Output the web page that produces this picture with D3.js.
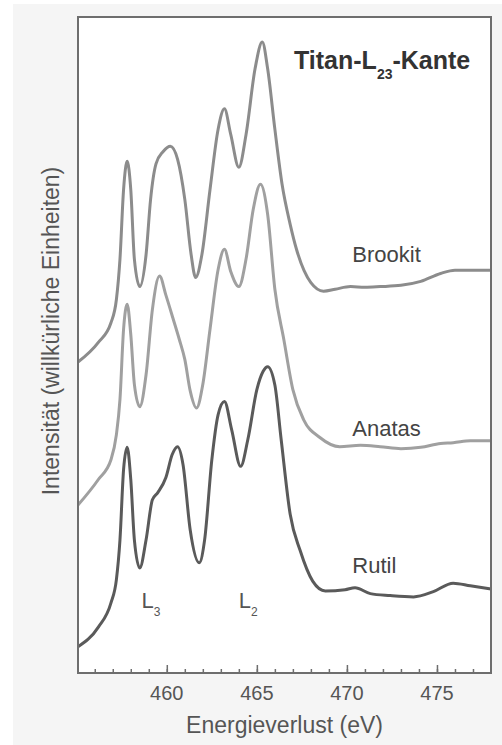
<!DOCTYPE html>
<meta charset="utf-8">
<style>
    html, body { margin: 0; padding: 0; overflow: hidden; background: #fff; }
    svg { display: block; }
    text { font-family: "Liberation Sans", Arial, sans-serif; }
    .spectrum { fill: none; stroke-width: 3; stroke-linejoin: round; }
</style>
<svg width="502" height="745"></svg>
<script src="https://d3js.org/d3.v7.min.js"></script>
<script>

    // energy loss (eV) and intensity (arbitrary units, offset per sample)
    var brookitEV = [455.07, 456.2, 456.9, 457.2, 457.4, 457.6, 457.8, 458.0, 458.2, 458.5, 458.85, 459.1, 459.4, 459.8, 460.2, 460.6, 461.0, 461.35, 461.6, 461.95, 462.4, 462.85, 463.2, 463.55, 464.0, 464.4, 464.9, 465.3, 465.6, 466.0, 466.4, 466.85, 467.2, 468.0, 468.7, 469.35, 470.2, 471.0, 471.85, 473.0, 474.1, 475.2, 476.0, 476.85, 478.0];
    var brookitI = [47.4, 50.4, 53.4, 56.9, 63.1, 73.7, 78.0, 73.7, 63.1, 58.9, 63.8, 72.2, 77.6, 79.5, 80.3, 78.3, 72.2, 63.8, 60.3, 63.8, 73.7, 82.9, 86.0, 82.1, 77.1, 82.1, 92.1, 96.2, 92.1, 82.9, 74.5, 68.4, 64.6, 59.5, 58.2, 58.5, 58.9, 58.8, 58.9, 59.1, 59.7, 60.9, 61.4, 61.4, 61.4];

    var anatasEV = [455.07, 456.2, 456.9, 457.2, 457.4, 457.6, 457.8, 458.0, 458.2, 458.5, 458.85, 459.2, 459.6, 459.95, 460.35, 460.7, 461.0, 461.3, 461.65, 462.0, 462.4, 462.85, 463.2, 463.55, 464.0, 464.4, 464.8, 465.2, 465.6, 466.0, 466.5, 467.0, 467.6, 468.5, 469.6, 470.75, 471.85, 473.0, 474.1, 475.2, 475.9, 476.85, 478.0];
    var anatasI = [25.6, 29.5, 32.5, 36.3, 41.7, 52.4, 56.2, 51.6, 44.0, 40.6, 45.5, 55.4, 60.5, 57.6, 54.0, 50.8, 47.8, 43.0, 40.4, 44.0, 52.4, 61.5, 64.6, 61.2, 58.9, 63.1, 70.7, 74.5, 69.9, 58.5, 50.8, 43.2, 38.6, 35.9, 34.5, 34.7, 34.5, 34.2, 34.4, 35.0, 35.1, 35.4, 35.4];

    var rutilEV = [455.07, 456.2, 456.9, 457.2, 457.4, 457.6, 457.8, 458.0, 458.2, 458.5, 458.85, 459.2, 459.5, 459.95, 460.3, 460.6, 460.9, 461.3, 461.8, 462.1, 462.5, 462.85, 463.2, 463.6, 464.1, 464.5, 465.0, 465.35, 465.6, 466.0, 466.35, 466.85, 467.4, 468.1, 468.8, 469.9, 470.45, 471.3, 472.4, 473.7, 474.8, 475.9, 476.85, 478.0];
    var rutilI = [4.0, 7.0, 10.7, 14.2, 20.3, 31.0, 34.4, 29.5, 20.3, 16.0, 20.3, 26.4, 27.5, 29.8, 33.3, 34.5, 31.8, 21.8, 16.8, 20.3, 32.5, 39.4, 41.4, 37.1, 31.5, 35.6, 43.2, 46.0, 46.7, 43.9, 35.6, 24.2, 18.7, 14.0, 12.5, 12.7, 13.0, 12.1, 11.8, 11.6, 12.4, 13.7, 13.3, 12.8];

    var sampleNames = ["Brookit", "Anatas", "Rutil"];
    var sampleColors = ["#8c8c8c", "#a0a0a0", "#5a5a5a"];
    var labelIntensity = [62.6, 36.2, 15.3];
    var labelEnergy = 470.3;

    var xTicks = [460, 465, 470, 475];
    var xMinorTicks = d3.range(456, 478, 1);

    var svg = d3.select("svg"),
        margin = {top: 17, right: 11, bottom: 72, left: 78},
        width = +svg.attr("width") - margin.left - margin.right,
        height = +svg.attr("height") - margin.top - margin.bottom;

    var x = d3.scaleLinear().domain([455.07, 478.0]).range([0, width]),
        y = d3.scaleLinear().domain([0, 100]).range([height, 0]);

    // grey page panel
    svg.append("rect")
        .attr("x", 13).attr("y", 4)
        .attr("width", 502 - 13).attr("height", 745 - 4)
        .attr("fill", "#f5f5f5");

    var g = svg.append("g")
        .attr("transform", "translate(" + margin.left + "," + margin.top + ")");

    g.append("rect")
        .attr("width", width)
        .attr("height", height)
        .attr("fill", "#fff");

    var line = d3.line()
        .curve(d3.curveMonotoneX)
        .x(function(d) { return x(d[0]); })
        .y(function(d) { return y(d[1]); });

    var series = [
        d3.zip(brookitEV, brookitI),
        d3.zip(anatasEV, anatasI),
        d3.zip(rutilEV, rutilI)
    ];

    g.selectAll(".spectrum")
        .data(series)
        .enter().append("path")
        .attr("class", "spectrum")
        .attr("stroke", function(d, i) { return sampleColors[i]; })
        .attr("d", line);

    // frame on top
    g.append("rect")
        .attr("width", width)
        .attr("height", height)
        .attr("fill", "none")
        .attr("stroke", "#6e6e6e")
        .attr("stroke-width", 2);

    // inward ticks on the bottom edge
    var xAxisMinor = d3.axisTop(x).tickValues(xMinorTicks).tickSize(4).tickFormat("");
    var xAxisMajor = d3.axisTop(x).tickValues(xTicks).tickSize(8).tickFormat("");

    [xAxisMinor, xAxisMajor].forEach(function(ax) {
        var a = g.append("g")
            .attr("transform", "translate(0," + height + ")")
            .call(ax);
        a.select(".domain").remove();
        a.selectAll("line").attr("stroke", "#6e6e6e").attr("stroke-width", 1.5);
    });

    g.selectAll(".xlabel")
        .data(xTicks)
        .enter().append("text")
        .attr("class", "xlabel")
        .attr("x", function(d) { return x(d); })
        .attr("y", height + 27)
        .attr("text-anchor", "middle")
        .attr("font-size", 20)
        .attr("fill", "#555")
        .text(function(d) { return d; });

    svg.append("text")
        .attr("x", margin.left + width / 2)
        .attr("y", 733)
        .attr("text-anchor", "middle")
        .attr("font-size", 23)
        .attr("fill", "#555")
        .text("Energieverlust (eV)");

    svg.append("text")
        .attr("transform", "translate(59,331) rotate(-90)")
        .attr("text-anchor", "middle")
        .attr("font-size", 23)
        .attr("fill", "#555")
        .text("Intensität (willkürliche Einheiten)");

    // sample names
    g.selectAll(".sample")
        .data(sampleNames)
        .enter().append("text")
        .attr("class", "sample")
        .attr("x", x(labelEnergy))
        .attr("y", function(d, i) { return y(labelIntensity[i]); })
        .attr("font-size", 22)
        .attr("fill", "#444")
        .text(function(d) { return d; });

    // title with subscript
    var title = svg.append("text")
        .attr("x", 294)
        .attr("y", 69)
        .attr("font-size", 25)
        .attr("font-weight", "bold")
        .attr("fill", "#333");
    title.append("tspan").text("Titan-L");
    title.append("tspan").attr("font-size", 14).attr("dy", 10).text("23");
    title.append("tspan").attr("dy", -10).text("-Kante");

    // edge labels L3, L2
    var edges = [{name: "L", sub: "3", ev: 458.6}, {name: "L", sub: "2", ev: 464.0}];
    edges.forEach(function(e) {
        var t = g.append("text")
            .attr("x", x(e.ev))
            .attr("y", 608 - margin.top)
            .attr("font-size", 22)
            .attr("fill", "#555");
        t.append("tspan").text(e.name);
        t.append("tspan").attr("font-size", 12).attr("dy", 8).text(e.sub);
    });

</script>
